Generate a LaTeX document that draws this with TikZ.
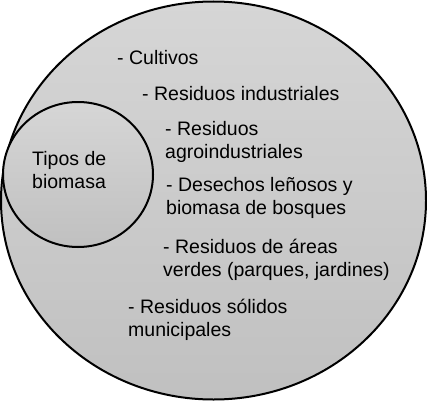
\documentclass[tikz,border=0pt]{standalone}
\usepackage{fontspec}
\setmainfont{Liberation Sans}
\usetikzlibrary{shapes.geometric}

\definecolor{grisClaro}{RGB}{214,214,214}
\definecolor{grisOscuro}{RGB}{192,192,192}

\begin{document}
\begin{tikzpicture}[x=1pt, y=-1pt,
  conjunto/.style={ellipse, draw=black, line width=2pt, top color=grisClaro,
    bottom color=grisOscuro, inner sep=0pt},
  lista/.style={anchor=base west, align=left, inner sep=0pt}]

  \fontsize{19.5}{22.8}\selectfont

  \useasboundingbox (0,0) rectangle (427,401);

  %% conjuntos
  \node[conjunto, minimum width=425pt, minimum height=398pt] (total) at (213.5,200.5) {};
  \node[conjunto, minimum width=150pt, minimum height=145pt] (tipos) at (78,174.5) {};
  \node[lista] (titulo) at (32,188.5) {Tipos de\\biomasa}; %% base = ultima linea

  %% lista de residuos
  \node[lista] (cultivos) at (117,65) {- Cultivos};
  \node[lista] (industriales) at (142,100) {- Residuos industriales};
  \node[lista] (agro) at (165,158) {- Residuos\\agroindustriales};
  \node[lista] (lenosos) at (166,214.5) {- Desechos leñosos y\\biomasa de bosques};
  \node[lista] (areas) at (163,276.5) {- Residuos de áreas\\verdes (parques, jardines)};
  \node[lista] (solidos) at (128,336) {- Residuos sólidos\\municipales};
\end{tikzpicture}
\end{document}
